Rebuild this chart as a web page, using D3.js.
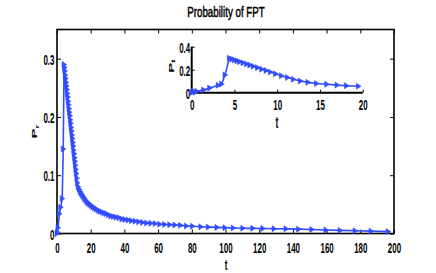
<!DOCTYPE html>
<html>
<head>
<meta charset="utf-8">
<script src="https://cdn.jsdelivr.net/npm/d3@7"></script>
<style>
  body { margin: 0; background: #fff; }
  text { font-family: "Liberation Sans", Arial, sans-serif; font-weight: bold; fill: #000; }
</style>
</head>
<body>
<script>
// --- data ---
const mainT = [0, 0.3, 0.6, 1.4, 2.2, 3.1, 3.7, 4.2,
  4.45, 4.7, 4.95, 5.2, 5.45, 5.7, 5.95, 6.2, 6.45, 6.7, 6.95, 7.2, 7.45, 7.7, 7.95,
  8.2, 8.45, 8.7, 8.95, 9.2, 9.45, 9.7, 9.95, 10.2, 10.45, 10.7, 10.95, 11.2, 11.5, 11.8, 12.1,
  12.6, 13.2, 13.8, 14.4, 15.0, 15.7, 16.4, 17.1, 17.9, 18.7, 19.5, 20.4, 21.3, 22.3, 23.3,
  24.4, 25.5, 26.7, 27.9, 29.2, 30.6, 32.0, 33.5, 35.1, 36.8, 38.5, 40.3, 42.2, 44.2, 46.3,
  48.5, 50.8, 53.2, 55.7, 58.3, 61.0, 63.9, 66.9, 70.0, 73.3, 76.8, 80.4,
  85.4, 89.8, 94.9, 99.7, 104.6, 110.3, 116.2, 122.1, 128.8, 135.9, 143.4, 151.2, 159.6,
  168.0, 176.9, 186.4, 196.6];
const mainP = [0, 0.002, 0.01, 0.034, 0.045, 0.06, 0.145, 0.29,
  0.285, 0.279, 0.272, 0.266, 0.259, 0.253, 0.247, 0.240, 0.234, 0.227, 0.221, 0.214, 0.208, 0.202, 0.195,
  0.189, 0.182, 0.176, 0.169, 0.163, 0.156, 0.150, 0.143, 0.137, 0.130, 0.124, 0.117, 0.110, 0.103, 0.095, 0.087,
  0.080, 0.076, 0.072, 0.069, 0.066, 0.063, 0.060, 0.057, 0.054, 0.052, 0.050, 0.048, 0.046, 0.044, 0.042,
  0.040, 0.038, 0.037, 0.035, 0.034, 0.032, 0.030, 0.029, 0.028, 0.027, 0.025, 0.024, 0.023, 0.022, 0.021,
  0.020, 0.019, 0.018, 0.0175, 0.017, 0.016, 0.0155, 0.015, 0.0145, 0.014, 0.013, 0.0125,
  0.0115, 0.011, 0.0105, 0.010, 0.0095, 0.009, 0.0088, 0.0085, 0.0082, 0.008, 0.0075, 0.0068, 0.006,
  0.0053, 0.0047, 0.004, 0.0033];

const insetT = [0, 0.2, 0.4, 0.6, 1.4, 2.1, 3.1, 3.5, 3.9, 4.4,
  4.7, 5.0, 5.3, 5.6, 6.0, 6.4, 6.8, 7.2, 7.7, 8.2, 8.7, 9.2, 9.8,
  10.5, 11.2, 11.9, 12.7, 13.6, 14.6, 15.8, 17.0, 18.1, 19.5];
const insetP = [0, 0.01, 0.005, 0.012, 0.023, 0.04, 0.065, 0.075, 0.155, 0.30,
  0.292, 0.285, 0.277, 0.270, 0.260, 0.250, 0.240, 0.230, 0.218, 0.205, 0.193, 0.180, 0.165,
  0.148, 0.132, 0.117, 0.102, 0.090, 0.080, 0.073, 0.066, 0.061, 0.056];

const mainXTicks = [0, 20, 40, 60, 80, 100, 120, 140, 160, 180, 200];
const mainYTicks = [0, 0.1, 0.2, 0.3];
const insetXTicks = [0, 5, 10, 15, 20];
const insetYTicks = [0, 0.2, 0.4];

// --- setup ---
const W = 436, H = 273;
const SX = 0.53;          // the picture's text is squeezed sideways
const FS = 15;
const BLUE = "#2f4cff";
const svg = d3.select("body").append("svg").attr("width", W).attr("height", H);

const fmtY = d => d === 0 ? "0" : d3.format(".1f")(d);

function squeezeX(axisG, y) {
  axisG.selectAll(".tick text")
    .attr("y", null).attr("dy", null)
    .attr("transform", `translate(0,${y}) scale(${SX},1)`)
    .attr("font-size", FS);
}
function squeezeY(axisG, x) {
  axisG.selectAll(".tick text")
    .attr("x", null).attr("dy", null)
    .attr("transform", `translate(${x},5.5) scale(${SX},1)`)
    .attr("font-size", FS);
}
function tri(sel, xs, ys, tArr, pArr) {
  sel.selectAll("path.m").data(tArr).join("path")
    .attr("class", "m")
    .attr("d", "M-2,-3L2.6,0L-2,3Z")
    .attr("transform", (d, i) => `translate(${xs(d)},${ys(pArr[i])})`)
    .attr("fill", BLUE).attr("stroke", BLUE).attr("stroke-width", 0.6);
}

// --- main axes ---
const x = d3.scaleLinear().domain([0, 200]).range([57, 394]);
const y = d3.scaleLinear().domain([0, 0.35]).range([233.5, 29.5]);

const gx = svg.append("g").attr("transform", "translate(0,233.5)")
  .call(d3.axisBottom(x).tickValues(mainXTicks).tickSizeInner(-4).tickSizeOuter(0));
squeezeX(gx, 19);
svg.append("g").attr("transform", "translate(0,29.5)")
  .call(d3.axisTop(x).tickValues(mainXTicks).tickSizeInner(-4).tickSizeOuter(0).tickFormat(""));
const gy = svg.append("g").attr("transform", "translate(57,0)")
  .call(d3.axisLeft(y).tickValues(mainYTicks).tickSizeInner(-4).tickSizeOuter(0).tickFormat(fmtY));
squeezeY(gy, -2.5);
gy.selectAll(".tick text").attr("text-anchor", "end");
svg.append("g").attr("transform", "translate(394,0)")
  .call(d3.axisRight(y).tickValues(mainYTicks).tickSizeInner(-4).tickSizeOuter(0).tickFormat(""));
svg.selectAll(".domain").remove();
svg.selectAll(".tick line").attr("stroke", "#000").attr("stroke-width", 1);

svg.append("rect").attr("x", 57).attr("y", 29.5).attr("width", 337).attr("height", 204)
  .attr("fill", "none").attr("stroke", "#000").attr("stroke-width", 1.6);

const line = d3.line().x((d, i) => x(mainT[i])).y(d => y(d));
svg.append("path").datum(mainP).attr("d", line)
  .attr("fill", "none").attr("stroke", BLUE).attr("stroke-width", 1.6);
tri(svg.append("g"), x, y, mainT, mainP);

// labels
svg.append("text").attr("text-anchor", "middle").attr("font-size", 15)
  .style("font-weight", "normal").attr("stroke", "#000").attr("stroke-width", 0.5)
  .attr("transform", `translate(226,17.3) scale(0.65,1)`).text("Probability of FPT");
svg.append("text").attr("text-anchor", "middle").attr("font-size", 15)
  .attr("transform", `translate(226,269.5) scale(${SX},1)`).text("t");
const yl = svg.append("text").attr("text-anchor", "middle").attr("font-size", 15)
  .attr("transform", `translate(37,131.5) scale(${SX},1) rotate(-90)`);
yl.append("tspan").text("P");
yl.append("tspan").attr("font-size", 10).attr("dy", 3).text("r");

// --- inset ---
const ix = d3.scaleLinear().domain([0, 20]).range([191.7, 362.7]);
const iy = d3.scaleLinear().domain([0, 0.4]).range([92.7, 46.7]);
const inset = svg.append("g");

inset.append("rect").attr("x", 191.7).attr("y", 46.7).attr("width", 171).attr("height", 46)
  .attr("fill", "#fff");
const igx = inset.append("g").attr("transform", "translate(0,92.7)")
  .call(d3.axisBottom(ix).tickValues(insetXTicks).tickSizeInner(-3).tickSizeOuter(0));
squeezeX(igx, 17.5);
const igy = inset.append("g").attr("transform", "translate(191.7,0)")
  .call(d3.axisLeft(iy).tickValues(insetYTicks).tickSizeInner(-3).tickSizeOuter(0).tickFormat(fmtY));
squeezeY(igy, -1.5);
igy.selectAll(".tick text").attr("text-anchor", "end");
inset.selectAll(".domain").remove();
inset.selectAll(".tick line").attr("stroke", "#000").attr("stroke-width", 1);

inset.append("path").attr("d", "M191.7,46.7V92.7H362.7")
  .attr("fill", "none").attr("stroke", "#000").attr("stroke-width", 2);

const iline = d3.line().x((d, i) => ix(insetT[i])).y(d => iy(d));
inset.append("path").datum(insetP).attr("d", iline)
  .attr("fill", "none").attr("stroke", BLUE).attr("stroke-width", 1.6);
tri(inset.append("g"), ix, iy, insetT, insetP);

inset.append("text").attr("text-anchor", "middle").attr("font-size", 16)
  .attr("transform", `translate(277,127.5) scale(${SX},1)`).text("t");
const il = inset.append("text").attr("text-anchor", "middle").attr("font-size", 15)
  .attr("transform", `translate(173.5,66) scale(${SX},1) rotate(-90)`);
il.append("tspan").text("P");
il.append("tspan").attr("font-size", 10).attr("dy", 3).text("t");
</script>
</body>
</html>
